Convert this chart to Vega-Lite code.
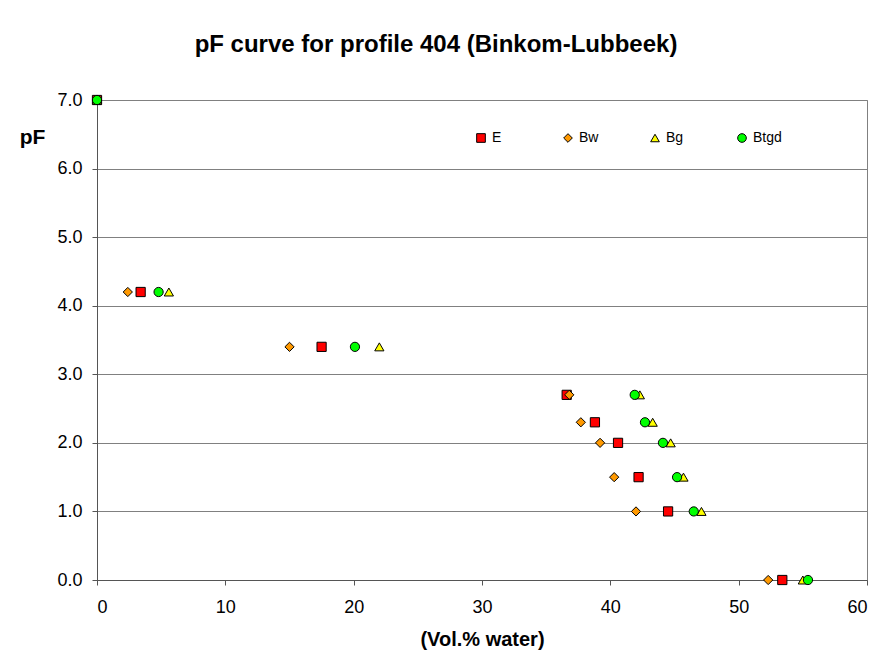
{
  "$schema": "https://vega.github.io/schema/vega-lite/v6.json",
  "autosize": "none",
  "width": 770,
  "height": 480,
  "padding": {"left": 97, "top": 100, "right": 5, "bottom": 84},
  "background": "white",
  "title": {
    "text": "pF curve for profile 404 (Binkom-Lubbeek)",
    "font": "Liberation Sans",
    "fontSize": 24,
    "fontWeight": "bold",
    "color": "black",
    "anchor": "middle",
    "dx": -46,
    "offset": 34
  },
  "data": {
    "values": [
      {"horizon": "E", "water": 0, "pF": 7.0},
      {"horizon": "Bw", "water": 0, "pF": 7.0},
      {"horizon": "Bg", "water": 0, "pF": 7.0},
      {"horizon": "Btgd", "water": 0, "pF": 7.0},
      {"horizon": "E", "water": 3.4, "pF": 4.2},
      {"horizon": "E", "water": 17.5, "pF": 3.4},
      {"horizon": "E", "water": 36.6, "pF": 2.7},
      {"horizon": "E", "water": 38.8, "pF": 2.3},
      {"horizon": "E", "water": 40.6, "pF": 2.0},
      {"horizon": "E", "water": 42.2, "pF": 1.5},
      {"horizon": "E", "water": 44.5, "pF": 1.0},
      {"horizon": "E", "water": 53.4, "pF": 0.0},
      {"horizon": "Bw", "water": 2.4, "pF": 4.2},
      {"horizon": "Bw", "water": 15.0, "pF": 3.4},
      {"horizon": "Bw", "water": 36.8, "pF": 2.7},
      {"horizon": "Bw", "water": 37.7, "pF": 2.3},
      {"horizon": "Bw", "water": 39.2, "pF": 2.0},
      {"horizon": "Bw", "water": 40.3, "pF": 1.5},
      {"horizon": "Bw", "water": 42.0, "pF": 1.0},
      {"horizon": "Bw", "water": 52.3, "pF": 0.0},
      {"horizon": "Bg", "water": 5.6, "pF": 4.2},
      {"horizon": "Bg", "water": 22.0, "pF": 3.4},
      {"horizon": "Bg", "water": 42.3, "pF": 2.7},
      {"horizon": "Bg", "water": 43.3, "pF": 2.3},
      {"horizon": "Bg", "water": 44.7, "pF": 2.0},
      {"horizon": "Bg", "water": 45.7, "pF": 1.5},
      {"horizon": "Bg", "water": 47.1, "pF": 1.0},
      {"horizon": "Bg", "water": 55.0, "pF": 0.0},
      {"horizon": "Btgd", "water": 4.8, "pF": 4.2},
      {"horizon": "Btgd", "water": 20.1, "pF": 3.4},
      {"horizon": "Btgd", "water": 41.9, "pF": 2.7},
      {"horizon": "Btgd", "water": 42.7, "pF": 2.3},
      {"horizon": "Btgd", "water": 44.1, "pF": 2.0},
      {"horizon": "Btgd", "water": 45.2, "pF": 1.5},
      {"horizon": "Btgd", "water": 46.5, "pF": 1.0},
      {"horizon": "Btgd", "water": 55.4, "pF": 0.0}
    ]
  },
  "mark": {"type": "point", "filled": true, "stroke": "black", "strokeWidth": 1, "size": 85, "opacity": 1, "clip": false},
  "encoding": {
    "x": {
      "field": "water",
      "type": "quantitative",
      "scale": {"domain": [0, 60], "nice": false, "zero": false},
      "axis": {
        "title": "(Vol.% water)",
        "values": [0, 10, 20, 30, 40, 50, 60],
        "grid": false,
        "domainColor": "#555555",
        "tickColor": "#555555",
        "tickSize": 5,
        "labelPadding": 13,
        "labelFont": "Liberation Sans",
        "labelFontSize": 18,
        "labelColor": "black",
        "titleFont": "Liberation Sans",
        "titleFontSize": 20,
        "titleFontWeight": "bold",
        "titleColor": "black",
        "titlePadding": 13
      }
    },
    "y": {
      "field": "pF",
      "type": "quantitative",
      "scale": {"domain": [0, 7], "nice": false, "zero": false},
      "axis": {
        "title": "pF",
        "values": [0, 1, 2, 3, 4, 5, 6, 7],
        "format": ".1f",
        "grid": true,
        "gridColor": "#808080",
        "gridWidth": 1,
        "domainColor": "#555555",
        "tickColor": "#555555",
        "tickSize": 5,
        "labelPadding": 10,
        "labelFont": "Liberation Sans",
        "labelFontSize": 18,
        "labelColor": "black",
        "titleFont": "Liberation Sans",
        "titleFontSize": 21,
        "titleFontWeight": "bold",
        "titleColor": "black",
        "titleAngle": 0,
        "titleAlign": "center",
        "titleBaseline": "middle",
        "titleX": -65,
        "titleY": 37
      }
    },
    "shape": {
      "field": "horizon",
      "type": "nominal",
      "scale": {"domain": ["E", "Bw", "Bg", "Btgd"], "range": ["square", "diamond", "triangle-up", "circle"]},
      "legend": {
        "title": null,
        "orient": "none",
        "legendX": 377,
        "legendY": 31,
        "direction": "horizontal",
        "columns": 4,
        "gridAlign": "all",
        "columnPadding": 40,
        "symbolSize": 75,
        "symbolStrokeColor": "black",
        "symbolStrokeWidth": 1,
        "labelFont": "Liberation Sans",
        "labelFontSize": 14,
        "labelColor": "black",
        "labelOffset": 4
      }
    },
    "color": {
      "field": "horizon",
      "type": "nominal",
      "scale": {"domain": ["E", "Bw", "Bg", "Btgd"], "range": ["#ff0000", "#ff9900", "#ffff00", "#00ff00"]},
      "legend": {
        "title": null,
        "orient": "none",
        "legendX": 377,
        "legendY": 31,
        "direction": "horizontal",
        "columns": 4,
        "gridAlign": "all",
        "columnPadding": 40,
        "symbolSize": 75,
        "symbolStrokeColor": "black",
        "symbolStrokeWidth": 1,
        "labelFont": "Liberation Sans",
        "labelFontSize": 14,
        "labelColor": "black",
        "labelOffset": 4
      }
    }
  },
  "config": {
    "view": {"stroke": "#808080", "strokeWidth": 1}
  }
}
